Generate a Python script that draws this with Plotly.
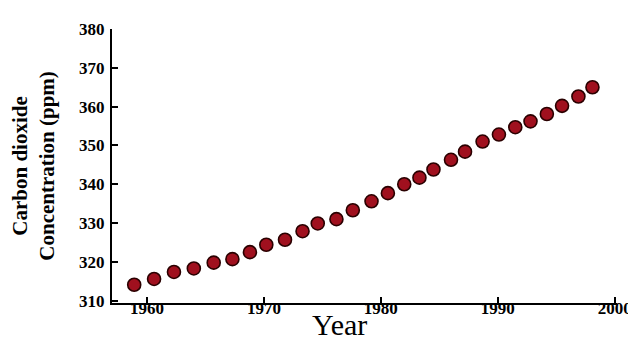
import plotly.graph_objects as go

years = [1958.9, 1960.6, 1962.3, 1964.0, 1965.7, 1967.3, 1968.8, 1970.2, 1971.8, 1973.3,
         1974.6, 1976.2, 1977.6, 1979.2, 1980.6, 1982.0, 1983.3, 1984.5, 1986.0, 1987.2,
         1988.7, 1990.1, 1991.5, 1992.8, 1994.2, 1995.5, 1996.9, 1998.1]
co2 = [314.1, 315.6, 317.4, 318.3, 319.8, 320.7, 322.5, 324.4, 325.7, 327.9,
       329.9, 331.0, 333.3, 335.6, 337.7, 340.0, 341.7, 343.8, 346.3, 348.4,
       351.0, 352.8, 354.7, 356.2, 358.1, 360.2, 362.6, 365.0]
x_ticks = [1960, 1970, 1980, 1990, 2000]
y_ticks = [310, 320, 330, 340, 350, 360, 370, 380]
x_title = "Year"
y_title = "Carbon dioxide<br>Concentration (ppm)"

serif = "Liberation Serif, Times New Roman, serif"

fig = go.Figure()
fig.add_trace(go.Scatter(
    x=years, y=co2, mode="markers",
    marker=dict(size=13, color="#a0101e", line=dict(color="#2a0000", width=1.6)),
    showlegend=False,
))

axis_common = dict(
    showline=True, linecolor="black", linewidth=2,
    ticks="inside", ticklen=6, tickwidth=2, tickcolor="black",
    showgrid=False, zeroline=False,
    tickfont=dict(family=serif, size=17, color="black", weight="bold"),
)
fig.update_xaxes(range=[1957, 2000.2], tickvals=x_ticks, ticklabelstandoff=-11, **axis_common)
fig.update_yaxes(range=[309.4, 380], tickvals=y_ticks, ticklabelstandoff=2, **axis_common)

fig.add_annotation(text=y_title, xref="paper", yref="paper", x=-0.157, y=0.50,
                   xanchor="center", yanchor="middle", textangle=-90, showarrow=False,
                   font=dict(family=serif, size=21, color="black", weight="bold"))
fig.add_annotation(text=x_title, xref="paper", yref="paper", x=0.4496, y=-0.08,
                   xanchor="center", yanchor="middle", showarrow=False,
                   font=dict(family=serif, size=30, color="black"))

fig.update_layout(
    width=636, height=341,
    margin=dict(l=104, r=16, t=15, b=46),
    paper_bgcolor="white", plot_bgcolor="white",
)
fig.write_html("out.html")
